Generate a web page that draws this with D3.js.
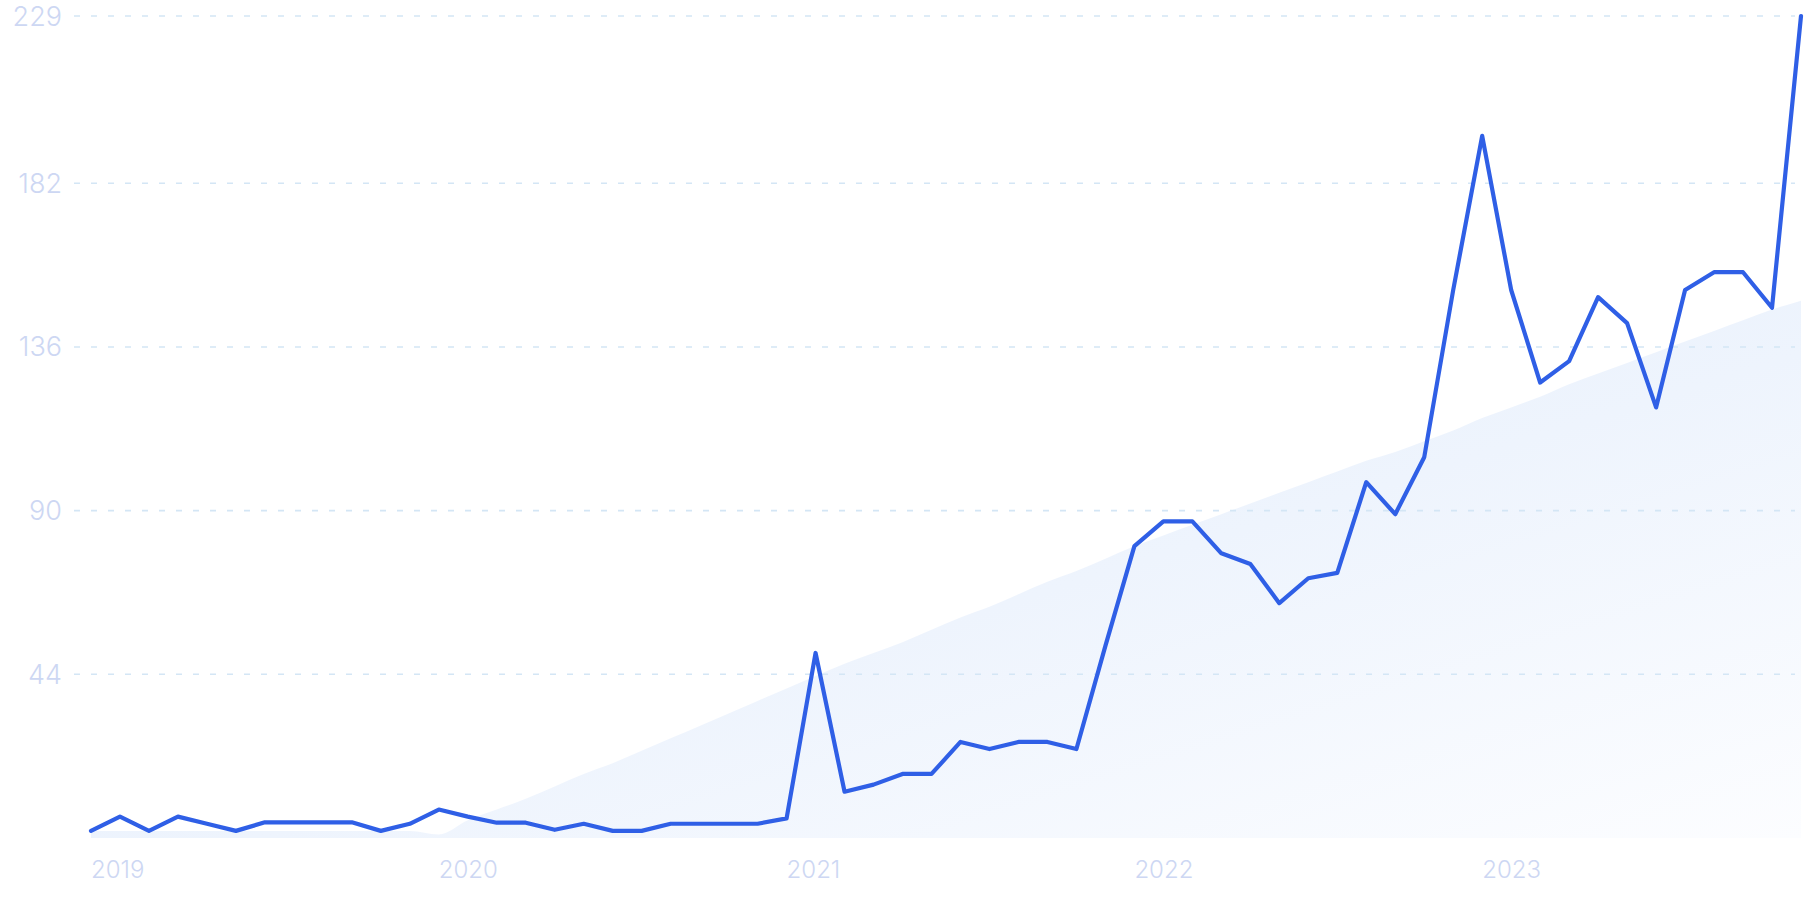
<!DOCTYPE html>
<html>
<head>
<meta charset="utf-8">
<script src="https://cdn.jsdelivr.net/npm/d3@7"></script>
<style>
	html, body { margin: 0; padding: 0; background: #ffffff; }
	svg { display: block; }
	.tick-label { font-family: Inter, "Noto Sans", sans-serif; font-weight: 300; fill: #cdd7f3; }
</style>
</head>
<body>
<svg id="chart" width="1807" height="903"></svg>
<script>
var d3 = window.d3;

// --------- Data --------- //
var startMonth = new Date(2019, 0, 1);
var months = d3.timeMonth.range(startMonth, new Date(2024, 0, 1));

var yearLabels = ["2019", "2020", "2021", "2022", "2023"];
var yTicks = [44, 90, 136, 182, 229];

// monthly interest values (Jan 2019 .. Dec 2023)
var interest = [
	0, 4, 0, 4, 2, 0, 2.4, 2.4, 2.4, 2.4, 0, 2,
	6, 4, 2.3, 2.3, 0.3, 2, 0, 0, 2, 2, 2, 2,
	3.5, 50, 11, 13, 16, 16, 25, 23, 25, 25, 23, 52,
	80, 87, 87, 78, 75, 64, 71, 72.5, 98, 89, 105, 152,
	195.3, 152, 126, 132, 150, 142.7, 119, 152, 157, 157, 147, 229
];

// background trend values
var trend = [
	0, 0, 0, 0, 0, 0, 0, 0, 0, 0, 0, 0,
	-1, 3, 6, 9, 12.5, 16, 19, 22.5, 26, 29.5, 33, 36.5,
	40, 43.5, 47, 50, 53, 56.5, 60, 63, 66.5, 70, 73, 76.5,
	80, 83, 86, 89, 92, 95, 98, 101, 104, 106.5, 109.5, 112.5,
	116, 119, 122, 125.5, 128.5, 131.5, 134.5, 137.5, 140.5, 143.5, 146.5, 149
];
// --------- /Data --------- //

var svg = d3.select("#chart");

var x = d3.scaleLinear().domain([0, months.length - 1]).range([91, 1801]);
var y = d3.scaleLinear().domain([-2, 229]).range([838, 16]);

// gradient for the trend area
var defs = svg.append("defs");
var grad = defs.append("linearGradient")
	.attr("id", "trendFill")
	.attr("x1", "0").attr("y1", "0")
	.attr("x2", "1").attr("y2", "1");
grad.append("stop").attr("offset", "0").attr("stop-color", "#e2edfb");
grad.append("stop").attr("offset", "0.55").attr("stop-color", "#eef4fd");
grad.append("stop").attr("offset", "1").attr("stop-color", "#fcfdff");

// trend area
var area = d3.area()
	.x(function(d, i){ return x(i); })
	.y0(y(-2))
	.y1(function(d){ return y(d); })
	.curve(d3.curveMonotoneX);

svg.append("path")
	.datum(trend)
	.attr("d", area)
	.attr("fill", "url(#trendFill)");

// horizontal dashed grid + y labels
var yAxisG = svg.append("g");
yAxisG.selectAll("line")
	.data(yTicks)
	.enter().append("line")
	.attr("x1", 74)
	.attr("x2", 1795)
	.attr("y1", function(d){ return y(d); })
	.attr("y2", function(d){ return y(d); })
	.attr("stroke", "#d4e6f5")
	.attr("stroke-width", 1.6)
	.attr("stroke-dasharray", "6,11");

yAxisG.selectAll("text")
	.data(yTicks)
	.enter().append("text")
	.attr("class", "tick-label")
	.attr("x", 62)
	.attr("y", function(d){ return y(d); })
	.attr("text-anchor", "end")
	.attr("dominant-baseline", "central")
	.style("font-size", "27px")
	.text(function(d){ return d; });

// year labels, left aligned on January
var xAxisG = svg.append("g");
xAxisG.selectAll("text")
	.data(yearLabels)
	.enter().append("text")
	.attr("class", "tick-label")
	.attr("x", function(d, i){ return x(i * 12); })
	.attr("y", 878)
	.attr("text-anchor", "start")
	.style("font-size", "24px")
	.text(function(d){ return d; });

// interest line
var line = d3.line()
	.x(function(d, i){ return x(i); })
	.y(function(d){ return y(d); });

svg.append("path")
	.datum(interest)
	.attr("d", line)
	.attr("fill", "none")
	.attr("stroke", "#2f5fe6")
	.attr("stroke-width", 4.2)
	.attr("stroke-linejoin", "round")
	.attr("stroke-linecap", "round");
</script>
</body>
</html>
